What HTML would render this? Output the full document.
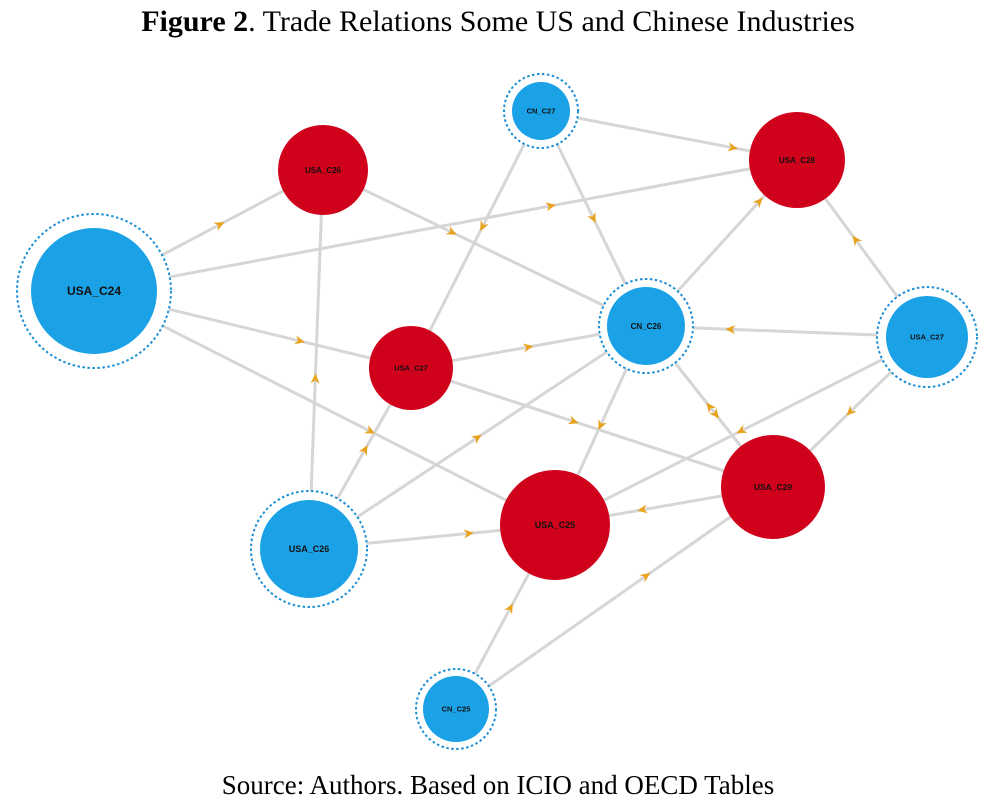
<!DOCTYPE html>
<html><head><meta charset="utf-8"><style>
html,body{margin:0;padding:0;background:#fff;}
body{width:996px;height:804px;position:relative;overflow:hidden;font-family:"Liberation Serif",serif;}
.t{position:absolute;top:4px;left:0;width:996px;text-align:center;font-size:30px;line-height:36px;color:#000;}
.s{position:absolute;top:768px;left:0;width:996px;text-align:center;font-size:27px;line-height:34px;color:#000;}
svg{position:absolute;left:0;top:0;}
</style></head><body>
<div class="t"><b>Figure 2</b>. Trade Relations Some US and Chinese Industries</div>
<svg id="g" width="996" height="804" xmlns="http://www.w3.org/2000/svg"></svg>
<div class="s">Source: Authors. Based on ICIO and OECD Tables</div>
<script>
var N={
 A:[94,291,63,77,'b','USA_C24',12],
 B:[323,170,45,0,'r','USA_C26',8],
 C:[541,111,29,37,'b','CN_C27',7.5],
 D:[797,160,48,0,'r','USA_C28',8],
 E:[646,326,39,47,'b','CN_C26',8],
 F:[927,337,41,50,'b','USA_C27',7.5],
 G:[411,368,42,0,'r','USA_C27',7.5],
 H:[773,487,52,0,'r','USA_C29',8.5],
 I:[555,525,55,0,'r','USA_C25',9],
 J:[309,549,49,58,'b','USA_C26',9],
 K:[456,709,33,40,'b','CN_C25',7.5]};
var E=[['A','B',.55],['A','D',.65],['A','G',.65],['A','I',.6],['B','E',.4],['C','D',.75],['C','G',.45],['C','E',.5],
['E','D',.75],['F','D',.55],['F','E',.7],['F','H',.5],['F','I',.5],['G','E',.5],['G','H',.45],['J','B',.45],
['J','G',.55],['J','I',.65],['J','E',.5],['E','H',.55],['E','I',.5],['H','I',.6],['K','I',.55],['K','H',.6],['H','E',.5]];
var s='';
E.forEach(function(e){var a=N[e[0]],b=N[e[1]];
 s+='<line x1="'+a[0]+'" y1="'+a[1]+'" x2="'+b[0]+'" y2="'+b[1]+'" stroke="#d6d6d6" stroke-width="3"/>';});
E.forEach(function(e){var a=N[e[0]],b=N[e[1]];
 var x=a[0]+(b[0]-a[0])*e[2],y=a[1]+(b[1]-a[1])*e[2];
 var ang=Math.atan2(b[1]-a[1],b[0]-a[0])*180/Math.PI;
 s+='<polygon points="5,0 -5,-4.5 -2,0 -5,4.5" fill="#e8a21c" transform="translate('+x+','+y+') rotate('+ang+')"/>';});
for(var k in N){var n=N[k];var c=n[4]=='b'?'#1ba1e6':'#d0021b';
 if(n[3])s+='<circle cx="'+n[0]+'" cy="'+n[1]+'" r="'+n[3]+'" fill="#fff" stroke="#1b8fd6" stroke-width="2" stroke-dasharray="2.5,2.5"/>';
 s+='<circle cx="'+n[0]+'" cy="'+n[1]+'" r="'+n[2]+'" fill="'+c+'"/>';
 s+='<text x="'+n[0]+'" y="'+(n[1]+n[6]*0.35)+'" text-anchor="middle" font-family="Liberation Sans,sans-serif" font-weight="bold" font-size="'+n[6]+'" fill="#111">'+n[5]+'</text>';}
document.getElementById('g').innerHTML=s;
</script>
</body></html>
